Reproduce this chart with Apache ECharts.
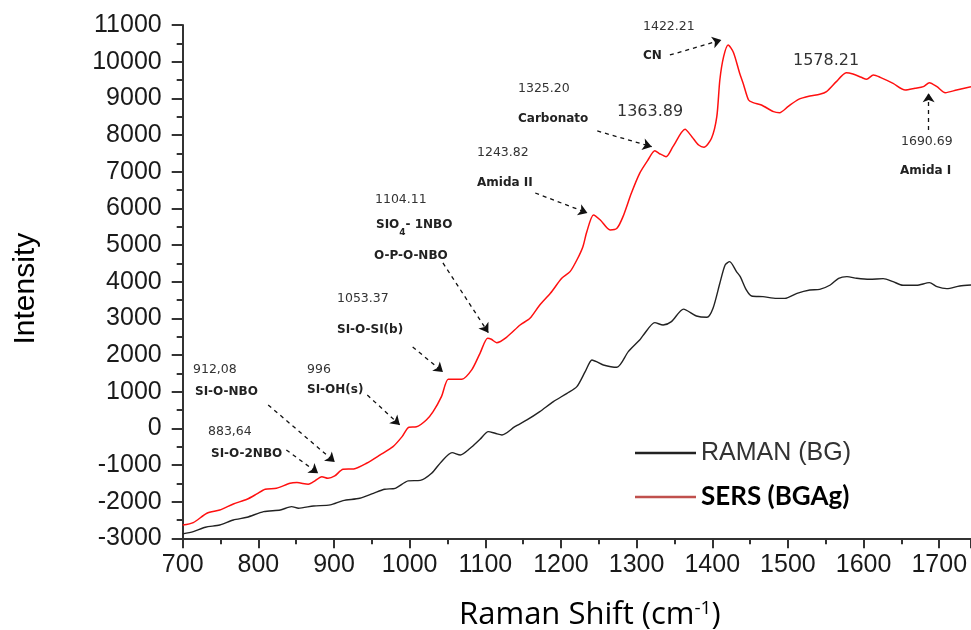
<!DOCTYPE html>
<html>
<head>
<meta charset="utf-8">
<script src="https://cdn.jsdelivr.net/npm/echarts@6/dist/echarts.min.js"></script>
<style>
html,body{margin:0;padding:0;background:#fff;}
#chart{width:971px;height:630px;}
</style>
</head>
<body>
<div id="chart"></div>
<script>
// ---- Data ----
const ramanBGShift = [700,714,730,749,767,785,807,829,844,853,873,895,912,934,952,967,981,998,1014,1029,1042,1056,1067,1080,1093,1104,1113,1122,1139,1155,1172,1190,1208,1221,1232,1241,1247,1256,1274,1289,1304,1309,1324,1335,1346,1362,1379,1393,1401,1410,1417,1423,1432,1437,1445,1452,1467,1485,1496,1512,1529,1542,1556,1567,1578,1591,1608,1626,1639,1652,1670,1687,1697,1710,1727,1742];
const ramanBG = [-2881,-2817,-2698,-2636,-2500,-2427,-2273,-2227,-2136,-2180,-2118,-2090,-1973,-1909,-1773,-1662,-1636,-1435,-1420,-1227,-909,-664,-727,-545,-300,-91,-136,-182,45,228,455,727,955,1136,1545,1864,1818,1727,1664,2091,2409,2545,2882,2818,2909,3250,3064,3027,3273,3955,4455,4545,4273,4136,3773,3609,3591,3545,3545,3682,3773,3791,3909,4091,4136,4091,4064,4082,4000,3900,3900,3973,3864,3809,3882,3909];

const sersShift = [700,714,732,749,767,785,798,809,824,842,851,866,873,884,892,901,912,926,943,961,978,990,999,1009,1022,1031,1042,1051,1060,1069,1082,1093,1103,1108,1115,1128,1146,1159,1172,1186,1201,1212,1221,1229,1234,1243,1252,1265,1274,1282,1293,1304,1315,1324,1331,1339,1348,1364,1373,1382,1389,1399,1406,1410,1415,1421,1428,1436,1441,1448,1454,1465,1481,1489,1500,1514,1529,1542,1551,1564,1577,1586,1597,1604,1613,1622,1639,1655,1668,1679,1687,1697,1708,1723,1742];
const sersBGAg = [-2640,-2572,-2316,-2227,-2063,-1935,-1790,-1662,-1635,-1498,-1481,-1525,-1455,-1318,-1362,-1299,-1117,-1108,-953,-726,-500,-227,29,40,228,455,864,1338,1338,1338,1592,2046,2455,2428,2336,2482,2818,3000,3364,3682,4091,4273,4591,4955,5350,5819,5682,5409,5455,5773,6410,6955,7318,7573,7482,7409,7682,8155,7955,7727,7664,7909,8500,9500,10136,10455,10250,9700,9400,8955,8882,8818,8636,8609,8773,8973,9064,9109,9182,9455,9700,9664,9573,9518,9636,9573,9409,9227,9273,9318,9427,9318,9155,9227,9318];

const seriesNames = ['RAMAN (BG)', 'SERS (BGAg)'];
const yTicks = [-3000, 11000, 1000];
const xRange = [700, 1742, 100];

// peak annotations: wavenumber label, assignment, arrow tail/head in data units
const annoPeak = ['912,08','883,64','996','1053.37','1104.11','1243.82','1325.20','1422.21','1690.69'];
const annoName = ['SI-O-NBO','SI-O-2NBO','SI-OH(s)','SI-O-SI(b)','SIO4','Amida II','Carbonato','CN','Amida I'];
const arrowTail = [[813,637],[837,-590],[944,909],[1004,2219],[1044,4510],[1166,6418],[1248,8109],[1344,10182],[1686,8137]];
const arrowHead = [[901,-917],[879,-1226],[987,91],[1044,1537],[1104,2609],[1235,5873],[1320,7682],[1412,10591],[1686,9137]];
const bigPeaks = ['1363.89','1578.21'];

// ---- layout (pixels) for annotation text ----
const annoPos = [[193,371,195,394],[208,433,211,456],[307,371,307,392],[337,300,337,332],[375,201,376,228],[477,154,477,185],[518,90,518,121],[643,28,643,58],[901,143,900,173]];
const bigPos = [[617,114],[793,63]];

const chart = echarts.init(document.getElementById('chart'), null, {renderer:'canvas'});

const numStyle = {fontFamily:'DejaVu Sans', fontSize:12.5, fill:'#333'};
const nameStyle = {fontFamily:'DejaVu Sans', fontSize:12, fontWeight:'bold', fill:'#222'};

const graphics = [];
annoPeak.forEach((p,i)=>{
  const pos = annoPos[i];
  graphics.push({type:'text', left:pos[0], top:pos[1]-8, silent:true,
    style:Object.assign({text:p}, numStyle)});
  if (annoName[i] === 'SIO4') {
    graphics.push({type:'text', left:pos[2], top:pos[3]-9, silent:true,
      style:{text:'{b|SIO}{s|4}{b|- 1NBO}', rich:{
        b:{fontFamily:'DejaVu Sans', fontSize:12, fontWeight:'bold', fill:'#222', lineHeight:18, verticalAlign:'top'},
        s:{fontFamily:'DejaVu Sans', fontSize:9, fontWeight:'bold', fill:'#222', lineHeight:18, verticalAlign:'bottom'}
      }}});
    graphics.push({type:'text', left:374, top:258-8, silent:true,
      style:Object.assign({text:'O-P-O-NBO'}, nameStyle)});
  } else {
    graphics.push({type:'text', left:pos[2], top:pos[3]-8, silent:true,
      style:Object.assign({text:annoName[i]}, nameStyle)});
  }
});
bigPeaks.forEach((p,i)=>{
  graphics.push({type:'text', left:bigPos[i][0], top:bigPos[i][1]-10, silent:true,
    style:{text:p, fontFamily:'DejaVu Sans', fontSize:16, fill:'#333'}});
});

const arrows = arrowTail.map((t,i)=>[{coord:t, symbol:'none'},{coord:arrowHead[i], symbol:'arrow', symbolSize:9}]);

const plainNum = v => String(v);

const option = {
  backgroundColor:'#fff',
  animation:false,
  grid:{left:182.7, right:0, top:25, bottom:91.7, containLabel:false, outerBoundsMode:'none'},
  legend:{
    orient:'vertical', left:630, top:433, itemWidth:61, itemHeight:2.5, itemGap:14,
    data:[
      {name:seriesNames[0], icon:'rect', itemStyle:{color:'#222'},
        textStyle:{fontFamily:'Liberation Sans', fontSize:25, color:'#333', lineHeight:30}},
      {name:seriesNames[1], icon:'rect', itemStyle:{color:'#c0504d'},
        textStyle:{fontFamily:'Lato', fontSize:26, fontWeight:'bold', color:'#000', lineHeight:30}}
    ]
  },
  xAxis:{
    type:'value', min:xRange[0], max:xRange[1], interval:xRange[2],
    name:'Raman Shift (cm{sup|-1})', nameLocation:'middle', nameGap:61,
    nameTextStyle:{fontFamily:'Open Sans', fontSize:31, color:'#000', padding:[0,0,0,26],
      rich:{sup:{fontFamily:'Open Sans', fontSize:19, color:'#000', verticalAlign:'top', lineHeight:31}}},
    axisLine:{show:true, onZero:false, lineStyle:{color:'#333', width:2}},
    axisTick:{show:true, inside:false, length:10, lineStyle:{color:'#333', width:2}},
    minorTick:{show:true, splitNumber:2, length:6, lineStyle:{color:'#333', width:2}},
    splitLine:{show:false},
    axisLabel:{fontFamily:'Liberation Sans', fontSize:25, color:'#1a1a1a', margin:14, showMaxLabel:false, formatter:plainNum}
  },
  yAxis:{
    type:'value', min:yTicks[0], max:yTicks[1], interval:yTicks[2],
    name:'Intensity', nameLocation:'middle', nameRotate:90, nameGap:142,
    nameTextStyle:{fontFamily:'Liberation Sans', fontSize:30, color:'#000', padding:[0,14,0,0]},
    axisLine:{show:true, onZero:false, lineStyle:{color:'#333', width:2}},
    axisTick:{show:true, inside:false, length:11, lineStyle:{color:'#333', width:2}},
    minorTick:{show:true, splitNumber:2, length:6, lineStyle:{color:'#333', width:2}},
    splitLine:{show:false},
    axisLabel:{fontFamily:'Liberation Sans', fontSize:25, color:'#1a1a1a', margin:21, formatter:plainNum}
  },
  series:[
    {name:seriesNames[0], type:'line', showSymbol:false, symbol:'none', smooth:0.25,
      data:ramanBGShift.map((x,i)=>[x, ramanBG[i]]),
      lineStyle:{color:'#222', width:1.4}, itemStyle:{color:'#222'}},
    {name:seriesNames[1], type:'line', showSymbol:false, symbol:'none', smooth:0.25,
      data:sersShift.map((x,i)=>[x, sersBGAg[i]]),
      lineStyle:{color:'#ff1010', width:1.5}, itemStyle:{color:'#ff1010'},
      markLine:{silent:true, animation:false, symbol:['none','arrow'], symbolSize:9,
        label:{show:false},
        lineStyle:{color:'#111', type:[4,4], width:1.3},
        emphasis:{disabled:true},
        data:arrows}
    }
  ],
  graphic:graphics
};
chart.setOption(option);
</script>
</body>
</html>
